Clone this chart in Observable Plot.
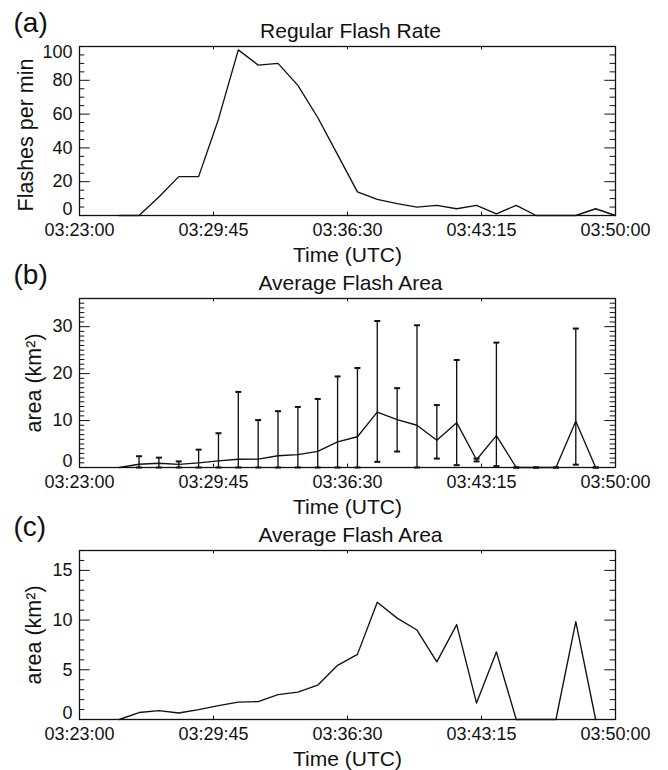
<!DOCTYPE html>
<html><head><meta charset="utf-8">
<script src="https://cdn.jsdelivr.net/npm/d3@7"></script>
<script src="https://cdn.jsdelivr.net/npm/@observablehq/plot@0.6"></script>
<style>
body{margin:0;background:#fff;}
#chart svg{display:block;}
</style></head><body><div id="chart"></div>
<script>
// ---- data ----
const rateTimes = ["03:25","03:26","03:27","03:28","03:29","03:30","03:31","03:32","03:33","03:34","03:35","03:36","03:37","03:38","03:39","03:40","03:41","03:42","03:43","03:44","03:45","03:46","03:47","03:48","03:49","03:50"];
const flashRate = [0,0,11,23,23,57,98,89,90,77,58,36,14,9.5,7,5,6,4,6,1,6,0,0,0,4,0];

const areaTimes = ["03:25","03:26","03:27","03:28","03:29","03:30","03:31","03:32","03:33","03:34","03:35","03:36","03:37","03:38","03:39","03:40","03:41","03:42","03:43","03:44","03:45","03:46","03:47","03:48","03:49"];
const meanArea = [0,0.7,0.9,0.65,1.0,1.4,1.75,1.8,2.5,2.75,3.45,5.45,6.55,11.8,10.2,9.0,5.8,9.55,1.65,6.8,0,0,0,9.85,0];
const areaHi = [null,2.4,2.1,1.3,3.8,7.3,16.1,10.1,12.0,12.9,14.6,19.4,21.2,31.2,16.9,30.3,13.3,22.9,1.9,26.6,0,0,0,29.6,0];
const areaLo = [null,0,0,0,0,0,0,0,0,0,0,0,0,1.2,3.4,0,1.9,0.5,1.3,0.3,0,0,0,0.6,0];

const xTickLabels = ["03:23:00","03:29:45","03:36:30","03:43:15","03:50:00"];
const panelLetters = ["(a)","(b)","(c)"];
const panelTitles = ["Regular Flash Rate","Average Flash Area","Average Flash Area"];
const yLabels = ["Flashes per min","area (km²)","area (km²)"];
const xLabel = "Time (UTC)";

// ---- build ----
const pHM = d3.utcParse("%H:%M");
const pHMS = d3.utcParse("%H:%M:%S");
const xTicks = xTickLabels.map(pHMS);
const xDomain = [xTicks[0], xTicks[xTicks.length-1]];
const rateData = rateTimes.map((t,i)=>({t:pHM(t), v:flashRate[i]}));
const areaData = areaTimes.map((t,i)=>({t:pHM(t), v:meanArea[i], hi:areaHi[i], lo:areaLo[i]}));
const barData = areaData.filter(d=>d.hi!=null);

const cap = {draw(ctx){ ctx.moveTo(-3,0); ctx.lineTo(3,0); }};
const FONT = "'Liberation Sans', Arial, Helvetica, sans-serif";
const INK = "#111";

function range(a,b,s){const r=[];for(let v=a;v<=b+1e-9;v+=s)r.push(+v.toFixed(6));return r;}

function panel(i, {height, marginBottom, yDomain, yStep, yMinorStep, ylabelX, ylabelDy, data}) {
  const W = 668, ML = 79, MR = 53, MT = 46;
  const fw = W - ML - MR;
  const fh = height - MT - marginBottom;
  const yMajor = range(yDomain[0], yDomain[1], yStep);
  const yMinor = range(yDomain[0], yDomain[1], yMinorStep).filter(v=>!yMajor.includes(v));
  const lo = yMajor[0], top = yMajor[yMajor.length-1];
  const mid = yMajor.filter(v=>v!==lo && !(v===top && top===yDomain[1]));
  const topLabels = (top===yDomain[1]) ? [top] : [];
  const marks = [
    Plot.tickY(yMinor, {y:d=>d, insetRight: fw-5.3, stroke:INK}),
    Plot.tickY(yMinor, {y:d=>d, insetLeft: fw-5.3, stroke:INK}),
    Plot.tickY(yMajor, {y:d=>d, insetRight: fw-10.7, stroke:INK}),
    Plot.tickY(yMajor, {y:d=>d, insetLeft: fw-10.7, stroke:INK}),
    Plot.tickX(xTicks, {x:d=>d, insetTop: fh-3.4, stroke:INK}),
    Plot.tickX(xTicks, {x:d=>d, insetBottom: fh-3.4, stroke:INK}),
    Plot.axisY({ticks: mid, tickSize:0, tickPadding:7, label:null, fontSize:18, fill:INK}),
    Plot.axisY({ticks: topLabels, tickSize:0, tickPadding:7, label:null, fontSize:18, dy:6, fill:INK}),
    Plot.axisY({ticks: [lo], tickSize:0, tickPadding:7, label:null, fontSize:18, dy:-6, fill:INK}),
    Plot.axisX({ticks: xTicks, tickFormat: d3.utcFormat("%H:%M:%S"), tickSize:0, tickPadding:8, label:null, fontSize:18, fill:INK}),
    Plot.text([panelTitles[i]], {text:d=>d, frameAnchor:"top", lineAnchor:"bottom", dy:-9, dx:3, fontSize:21, fill:INK}),
    Plot.text([panelLetters[i]], {text:d=>d, frameAnchor:"top-left", textAnchor:"start", lineAnchor:"bottom", dx:-66, dy:-15, fontSize:28, fill:INK}),
    Plot.text([xLabel], {text:d=>d, frameAnchor:"bottom", lineAnchor:"bottom", dy:46, fontSize:21, fill:INK}),
    Plot.text([yLabels[i]], {text:d=>d, frameAnchor:"left", textAnchor:"middle", lineAnchor:"bottom", rotate:-90, dx: ylabelX-ML, dy: ylabelDy, fontSize:21.5, fill:INK}),
    ...data,
    Plot.frame({stroke:INK, strokeWidth:1.3})
  ];
  return Plot.plot({
    width: W, height, marginLeft: ML, marginRight: MR, marginTop: MT, marginBottom,
    style: {fontFamily: FONT, background: "#fff", color: INK, overflow: "visible"},
    x: {type:"utc", domain: xDomain, axis: null},
    y: {domain: yDomain, axis: null},
    marks
  });
}

const root = document.getElementById("chart");
root.append(panel(0, {height:252, marginBottom:37, yDomain:[0,100], yStep:20, yMinorStep:5, ylabelX:32, ylabelDy:4,
  data:[Plot.line(rateData, {x:"t", y:"v", stroke:INK, strokeWidth:1.35})]}));
root.append(panel(1, {height:252, marginBottom:37, yDomain:[0,36], yStep:10, yMinorStep:1, ylabelX:40, ylabelDy:0,
  data:[
    Plot.ruleX(barData, {x:"t", y1:"lo", y2:"hi", stroke:INK, strokeWidth:1.35}),
    Plot.dot(barData, {x:"t", y:"hi", symbol:cap, fill:"none", stroke:INK, strokeWidth:2}),
    Plot.dot(barData, {x:"t", y:"lo", symbol:cap, fill:"none", stroke:INK, strokeWidth:2}),
    Plot.line(areaData, {x:"t", y:"v", stroke:INK, strokeWidth:1.35})
  ]}));
root.append(panel(2, {height:266, marginBottom:51, yDomain:[0,17], yStep:5, yMinorStep:1, ylabelX:40, ylabelDy:0,
  data:[Plot.line(areaData, {x:"t", y:"v", stroke:INK, strokeWidth:1.35})]}));
</script></body></html>
